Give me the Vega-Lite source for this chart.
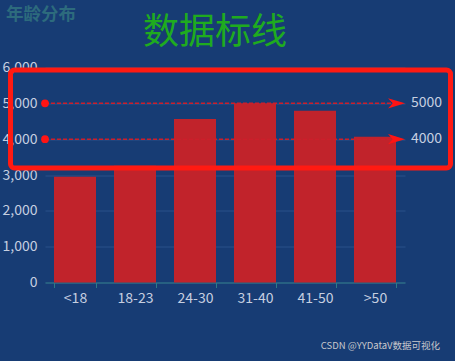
{
  "$schema": "https://vega.github.io/schema/vega-lite/v6.json",
  "width": 360,
  "height": 215,
  "autosize": {"type": "none"},
  "padding": {"left": 45, "top": 67.5, "right": 50, "bottom": 78.5},
  "background": "#173c74",
  "config": {"view": {"stroke": null}, "font": "Noto Sans CJK SC"},
  "layer": [
    {
      "data": {"values": [
        {"age": "<18", "count": 2950},
        {"age": "18-23", "count": 3260},
        {"age": "24-30", "count": 4560},
        {"age": "31-40", "count": 5000},
        {"age": "41-50", "count": 4790},
        {"age": ">50", "count": 4070}
      ]},
      "mark": {"type": "bar", "color": "#c1232b"},
      "encoding": {
        "x": {"field": "age", "type": "nominal", "sort": null,
          "scale": {"paddingInner": 0.3, "paddingOuter": 0.15},
          "axis": {"title": null, "labelAngle": 0, "domainColor": "#2e7a85", "tickColor": "#2e7a85", "tickBand": "extent", "tickSize": 5, "labelColor": "#c6cfe0", "labelFontSize": 14, "labelPadding": 4, "grid": false}},
        "y": {"field": "count", "type": "quantitative",
          "scale": {"domain": [0, 6000], "nice": false},
          "axis": {"title": null, "domain": false, "ticks": false, "gridColor": "#2a5089", "labelColor": "#c6cfe0", "labelFontSize": 14, "labelPadding": 8, "tickCount": 6, "format": ",.0f"}}
      }
    },
    {
      "layer": [
        {
          "data": {"values": [{"v": 5000, "lab": "5000"}, {"v": 4000, "lab": "4000"}]},
          "layer": [
            {
              "mark": {"type": "rule", "color": "#cc1f2b", "strokeDash": [4, 2], "strokeWidth": 1.5},
              "encoding": {
                "x": {"datum": 0, "type": "quantitative", "scale": {"domain": [0, 1], "nice": false, "zero": false}, "axis": null},
                "x2": {"datum": 0.99},
                "y": {"field": "v", "type": "quantitative", "scale": {"domain": [0, 6000], "nice": false}, "axis": null}
              }
            },
            {
              "mark": {"type": "point", "filled": true, "shape": "circle", "size": 60, "color": "#ff1414", "opacity": 1},
              "encoding": {
                "x": {"datum": 0, "type": "quantitative", "scale": {"domain": [0, 1], "nice": false, "zero": false}, "axis": null},
                "y": {"field": "v", "type": "quantitative", "scale": {"domain": [0, 6000], "nice": false}, "axis": null}
              }
            },
            {
              "mark": {"type": "point", "filled": true, "shape": "M1,0 L-1,-0.6 L-0.45,0 L-1,0.6 Z", "size": 289, "color": "#ff1414", "opacity": 1},
              "encoding": {
                "x": {"datum": 0.9764, "type": "quantitative", "scale": {"domain": [0, 1], "nice": false, "zero": false}, "axis": null},
                "y": {"field": "v", "type": "quantitative", "scale": {"domain": [0, 6000], "nice": false}, "axis": null}
              }
            },
            {
              "mark": {"type": "text", "align": "left", "baseline": "middle", "color": "#c6cfe0", "fontSize": 14},
              "encoding": {
                "x": {"datum": 1.0167, "type": "quantitative", "scale": {"domain": [0, 1], "nice": false, "zero": false}, "axis": null},
                "y": {"field": "v", "type": "quantitative", "scale": {"domain": [0, 6000], "nice": false}, "axis": null},
                "text": {"field": "lab"}
              }
            }
          ]
        },
        {
          "data": {"values": [{"name": "highlight"}]},
          "mark": {"type": "rect", "fill": "#000000", "fillOpacity": 0, "stroke": "#ff1a12", "strokeWidth": 5, "cornerRadius": 4},
          "encoding": {
            "x": {"datum": -0.0958, "type": "quantitative", "scale": {"domain": [0, 1], "nice": false, "zero": false}, "axis": null},
            "x2": {"datum": 1.1264},
            "y": {"datum": 5930, "type": "quantitative", "scale": {"domain": [0, 6000], "nice": false}, "axis": null},
            "y2": {"datum": 3195}
          }
        },
        {
          "data": {"values": [{"t": "年龄分布"}]},
          "mark": {"type": "text", "align": "left", "baseline": "middle", "color": "#2d6b7d", "fontSize": 17.5, "fontWeight": "bold"},
          "encoding": {
            "x": {"datum": -0.1083, "type": "quantitative", "scale": {"domain": [0, 1], "nice": false, "zero": false}, "axis": null},
            "y": {"datum": 7465, "type": "quantitative", "scale": {"domain": [0, 6000], "nice": false}, "axis": null},
            "text": {"field": "t"}
          }
        },
        {
          "data": {"values": [{"t": "数据标线"}]},
          "mark": {"type": "text", "align": "center", "baseline": "middle", "color": "#1fab1f", "fontSize": 36},
          "encoding": {
            "x": {"datum": 0.4722, "type": "quantitative", "scale": {"domain": [0, 1], "nice": false, "zero": false}, "axis": null},
            "y": {"datum": 6949, "type": "quantitative", "scale": {"domain": [0, 6000], "nice": false}, "axis": null},
            "text": {"field": "t"}
          }
        },
        {
          "data": {"values": [{"t": "CSDN @YYDataV数据可视化"}]},
          "mark": {"type": "text", "align": "right", "baseline": "middle", "color": "#c8c8cc", "fontSize": 9.5},
          "encoding": {
            "x": {"datum": 1.0972, "type": "quantitative", "scale": {"domain": [0, 1], "nice": false, "zero": false}, "axis": null},
            "y": {"datum": -1772, "type": "quantitative", "scale": {"domain": [0, 6000], "nice": false}, "axis": null},
            "text": {"field": "t"}
          }
        }
      ]
    }
  ],
  "resolve": {"scale": {"x": "independent", "y": "independent"}, "axis": {"x": "independent", "y": "independent"}}
}
